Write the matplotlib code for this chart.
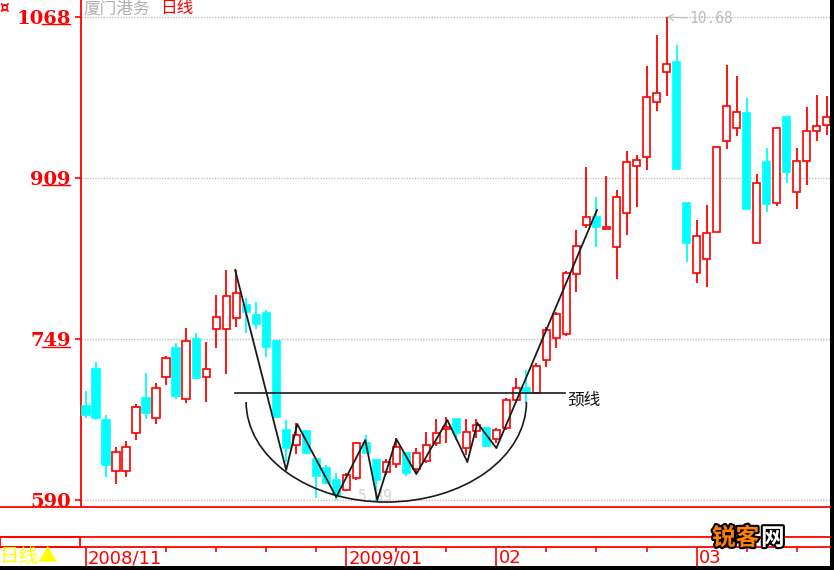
import numpy as np
import matplotlib
matplotlib.use('Agg')
import matplotlib.pyplot as plt
from matplotlib.lines import Line2D
from matplotlib.patches import Arc, Rectangle
import matplotlib.patheffects as pe
import matplotlib.transforms as mtransforms

# ---------------- data ----------------
opens = [683, 720, 669, 619, 619, 656, 691, 671, 712, 740,
         690, 749, 712, 759, 759, 770, 783, 773, 775, 747,
         659, 644, 658, 631, 622, 610, 600, 612, 646, 630,
         618, 626, 637, 621, 629, 646, 660, 670, 641, 658,
         661, 650, 661, 689, 701, 696, 729, 750, 754, 814,
         862, 870, 858, 840, 874, 921, 929, 984, 1014, 1023,
         884, 815, 829, 855, 945, 958, 973, 844, 924, 884,
         969, 895, 925, 955, 961]
highs = [698, 727, 674, 642, 648, 685, 716, 706, 733, 745,
         760, 755, 746, 793, 818, 818, 790, 786, 778, 748,
         669, 666, 659, 631, 625, 617, 617, 647, 654, 631,
         631, 651, 637, 641, 657, 670, 672, 670, 670, 670,
         661, 661, 691, 711, 719, 726, 761, 776, 817, 857,
         920, 890, 911, 897, 935, 931, 1019, 1050, 1068, 1040,
         884, 867, 882, 940, 1020, 1010, 988, 913, 938, 959,
         969, 938, 979, 991, 990]
lows = [671, 669, 613, 606, 613, 649, 670, 665, 704, 690,
        686, 710, 687, 740, 715, 761, 755, 759, 732, 671,
        628, 636, 636, 592, 606, 590, 599, 610, 636, 589,
        615, 622, 614, 617, 627, 643, 646, 649, 635, 651,
        642, 646, 659, 688, 686, 696, 722, 740, 752, 796,
        859, 840, 858, 809, 852, 880, 917, 975, 990, 918,
        826, 805, 801, 855, 937, 950, 878, 844, 875, 881,
        904, 878, 902, 945, 951]
closes = [674, 671, 625, 638, 642, 682, 676, 701, 731, 693,
          747, 711, 720, 771, 792, 795, 776, 764, 741, 672,
          641, 654, 637, 614, 607, 595, 615, 646, 637, 610,
          628, 642, 617, 637, 644, 656, 662, 656, 657, 664,
          643, 659, 689, 701, 696, 723, 758, 774, 815, 841,
          870, 860, 860, 890, 924, 926, 989, 993, 1021, 918,
          844, 851, 854, 939, 980, 974, 878, 904, 883, 958,
          915, 925, 955, 960, 969]

price_ticks = [590, 749, 909, 1068]
price_labels = ["590", "749", "909", "1068"]

date_major_idx = [0, 26, 41, 61]
date_major_labels = ["2008/11", "2009/01", "02", "03"]
date_minor_idx = [8, 13, 18, 23, 31, 36, 46, 51, 56, 66, 71]

# pattern overlay drawn on the chart (candle index, price)
zigzag_idx = [14.9, 20.0, 21.1, 25.0, 27.9, 29.1, 31.0, 33.0, 36.1, 38.1, 39.1, 41.0, 51.05]
zigzag_price = [817.6, 619.7, 665.2, 592.9, 649.4, 590.0, 650.3, 615.7, 669.1, 627.6, 666.2, 641.4, 877.0]
neck_idx = [14.9, 47.85]
neck_price = 696
bowl_center = (30.0, 687.0)
bowl_halfwidth = 14.0
bowl_depth = 99.0
high_idx, high_price, high_text = 58, 1068, "10.68"
low_idx, low_price, low_text = 27.2, 593, "5.89"

# ---------------- figure ----------------
W, H = 834, 570
fig = plt.figure(figsize=(W / 100, H / 100), dpi=100)
fig.patch.set_facecolor('white')

def fx(px):
    return px / W

def fy(py):
    return 1 - py / H

RED = '#FF0000'
CYAN = '#00FFFF'
GRID = '#C0C0C0'
CJK = ['Noto Sans CJK SC', 'DejaVu Sans']

ax = fig.add_axes([fx(81), fy(507), fx(830) - fx(81), fy(0) - fy(507)])
ax.set_facecolor('white')
ax.set_xlim(-0.5, 74.33)
ax.set_ylim(583.1, 1084.8)
for s in ['top', 'right', 'bottom']:
    ax.spines[s].set_visible(False)
ax.spines['left'].set_color(RED)
ax.spines['left'].set_linewidth(1.3)
ax.set_xticks([])

# grid lines
for v in price_ticks:
    ax.axhline(v, color=GRID, lw=1.0, ls=(0, (1, 1)), zorder=1)

# candles
O = np.array(opens, float)
Hh = np.array(highs, float)
L = np.array(lows, float)
C = np.array(closes, float)
x = np.arange(len(O))
up = C >= O
col = np.where(up, RED, CYAN)
ax.vlines(x, L, Hh, colors=col, lw=1.3, zorder=2)
bottom = np.minimum(O, C)
height = np.maximum(np.abs(C - O), 1.2)
ax.bar(x, height, bottom=bottom, width=0.72,
       color=np.where(up, 'white', CYAN), edgecolor=col, linewidth=1.2, zorder=3)

# overlay pattern
LC = '#1a1a1a'
ax.plot(zigzag_idx, zigzag_price, color=LC, lw=1.3, zorder=6)
ax.plot(neck_idx, [neck_price, neck_price], color=LC, lw=1.2, zorder=6)
ax.add_patch(Arc(bowl_center, 2 * bowl_halfwidth, 2 * bowl_depth, theta1=180, theta2=360,
                 color=LC, lw=1.2, zorder=6))
ax.text(neck_idx[1] + 0.2, neck_price - 7, '颈线', family=CJK, fontsize=12,
        color='#111111', ha='left', va='center', zorder=7)

# high / low markers
ax.annotate(high_text, xy=(high_idx, high_price), xytext=(high_idx + 2.3, high_price - 2),
            family='DejaVu Sans Mono', fontsize=10.5, color='#BDBDBD', va='center', ha='left',
            arrowprops=dict(arrowstyle='->', color='#BDBDBD', lw=0.8,
                            shrinkA=0, shrinkB=0), zorder=4)
ax.text(low_idx, low_price, low_text, family='DejaVu Sans Mono', fontsize=10.5,
        color='#D4D4D4', ha='left', va='center', zorder=4)

# y ticks
ax.set_yticks(price_ticks)
ax.set_yticklabels(price_labels)
ax.tick_params(axis='y', colors=RED, length=4.5, width=1.2, pad=3, direction='out')
for lab in ax.get_yticklabels():
    lab.set_fontfamily('DejaVu Serif')
    lab.set_fontweight('bold')
    lab.set_fontsize(14)

# underline under last two digits of price labels
trans = mtransforms.blended_transform_factory(fig.transFigure, ax.transData) + \
    mtransforms.ScaledTranslation(0, -7.5 / 100, fig.dpi_scale_trans)
for v in price_ticks[1:]:
    fig.add_artist(Line2D([fx(42), fx(70)], [v, v], transform=trans, color=RED, lw=1.0))

# frame lines
for py in [507, 537, 547]:
    fig.add_artist(Line2D([0, fx(830)], [fy(py), fy(py)], color=RED, lw=1.3))
fig.add_artist(Rectangle((0, fy(547)), fx(80), fy(537) - fy(547), transform=fig.transFigure,
                         facecolor='white', edgecolor=RED, lw=1.3))
fig.add_artist(Rectangle((fx(830), 0), 1 - fx(830), 1, transform=fig.transFigure,
                         facecolor='black', edgecolor='none'))
fig.add_artist(Rectangle((0, 0), 1, fy(566), transform=fig.transFigure,
                         facecolor='black', edgecolor='none'))

# date axis
ax2 = fig.add_axes([fx(81), fy(566), fx(830) - fx(81), fy(547) - fy(566)])
ax2.set_xlim(ax.get_xlim())
ax2.set_ylim(0, 1)
ax2.axis('off')
ax2.vlines(date_major_idx, 0, 1, colors=RED, lw=1.2)
ax2.vlines(date_minor_idx, 1 - 5 / 19, 1, colors=RED, lw=1.2)
for i, t in zip(date_major_idx, date_major_labels):
    ax2.text(i + 0.2, 0.42, t, color=RED, fontsize=13, family='DejaVu Sans',
             ha='left', va='center')

# title and corner texts
fig.text(fx(0), fy(8), '¤', color=RED, fontsize=11, fontweight='bold', ha='left', va='center')
fig.text(fx(83), fy(9), '厦门港务', color='#B0B0B0', fontsize=12, family=CJK, ha='left', va='center')
fig.text(fx(160), fy(9), '日线', color=RED, fontsize=12, family=CJK, ha='left', va='center')
fig.text(fx(0), fy(556), '日线▲', color='#FFFF00', fontsize=14, family=CJK, ha='left', va='center')

# watermark
stroke = [pe.withStroke(linewidth=3, foreground='black')]
fig.text(fx(712), fy(538), '锐客', color='#FF8000', fontsize=17, fontweight='bold', family=CJK,
         ha='left', va='center', path_effects=stroke)
fig.text(fx(761), fy(538), '网', color='white', fontsize=17, fontweight='bold', family=CJK,
         ha='left', va='center', path_effects=stroke)

fig.savefig('out.png', dpi=100)
